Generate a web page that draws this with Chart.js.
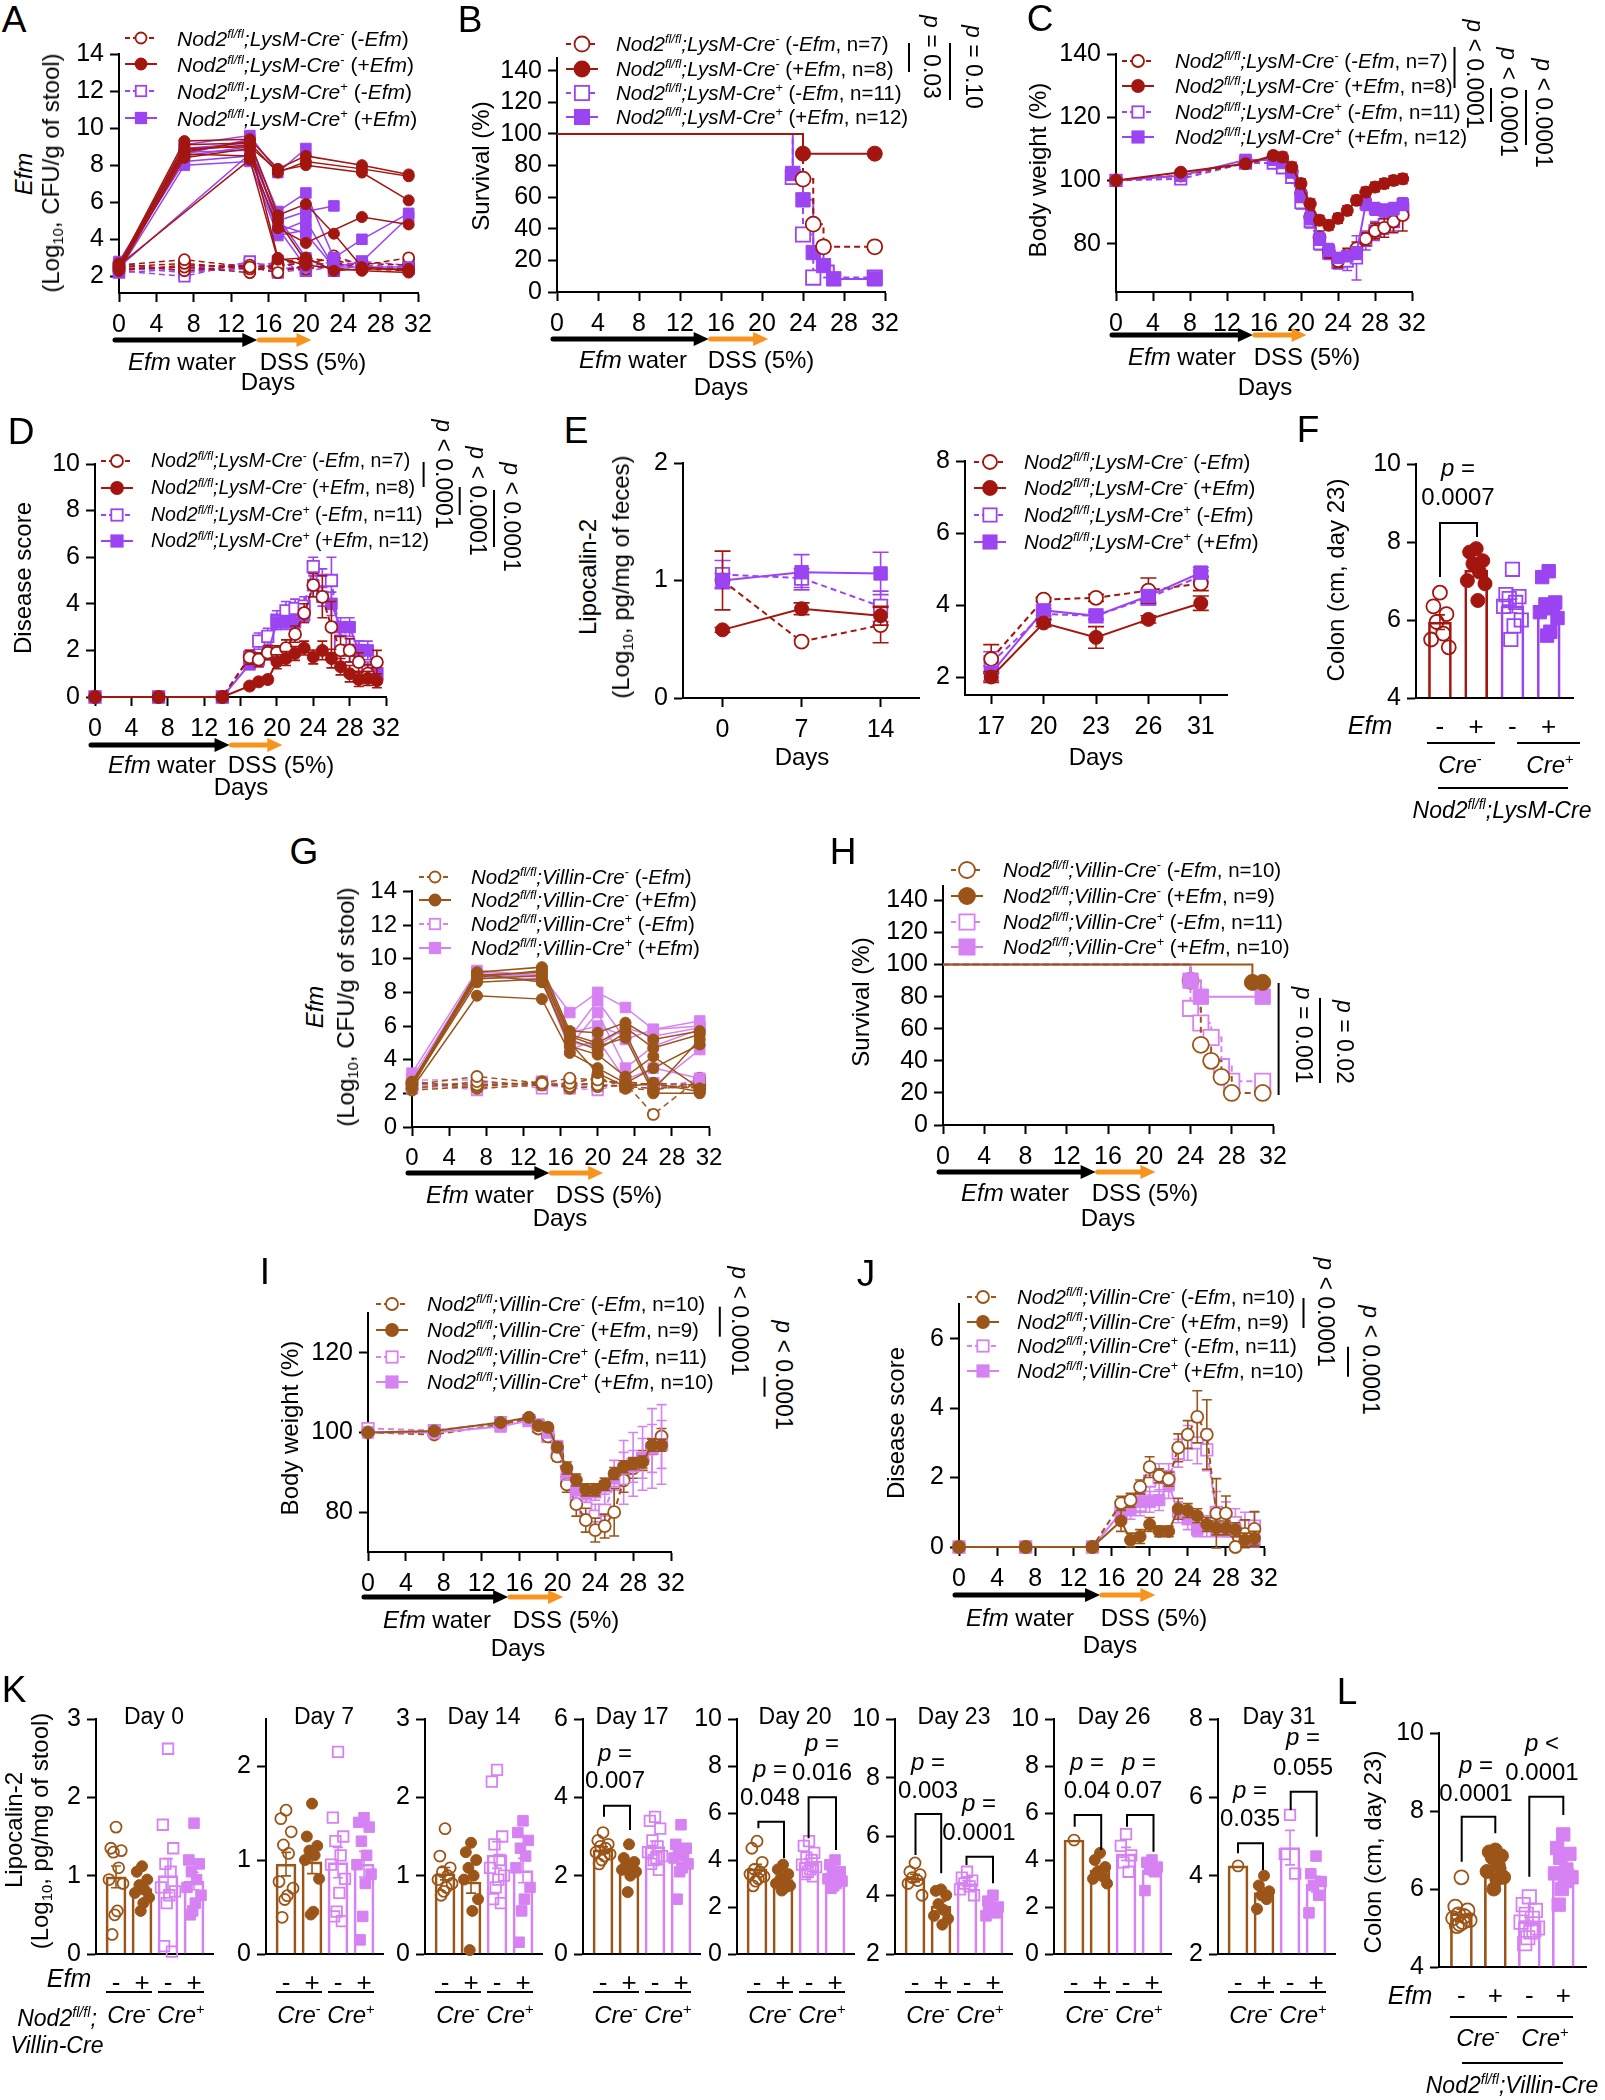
<!DOCTYPE html>
<html><head><meta charset="utf-8">
<script src="https://cdn.jsdelivr.net/npm/chart.js@4.4.1/dist/chart.umd.min.js"></script>
<style>
html,body{margin:0;padding:0;background:#fff;}
body{width:1605px;height:2100px;position:relative;overflow:hidden;font-family:"Liberation Sans",Arial,Helvetica,sans-serif;color:#000;}
canvas{position:absolute;}
.t{position:absolute;white-space:nowrap;line-height:1;}
.t sup{font-size:0.62em;vertical-align:0.6em;line-height:0;}
.t sub{font-size:0.62em;vertical-align:-0.3em;line-height:0;}
#ov{position:absolute;left:0;top:0;pointer-events:none;}
</style></head><body>
<script>
/* ================= DATA ================= */
const efmDays=[0,7,14,17,20,23,26,31];
const scoreDays=[0,7,14,17,18,19,20,21,22,23,24,25,26,27,28,29,30,31];
const dayTicks=[0,4,8,12,16,20,24,28,32];
const phaseDays=[0,14.8,20.6]; // Efm water -> DSS (5%)

// A: Efm CFU per mouse (LysM)
const A_creNeg_noEfm=[[2.6,2.9,2.5,2.2,2.6,3.1,2.6,3.0],[2.5,2.7,2.4,2.5,2.8,2.9,2.5,2.4],[2.4,2.5,2.2,2.7,3.0,2.8,2.4,2.3],[2.7,2.3,2.6,2.4,2.4,2.6,2.7,2.6],[2.3,2.6,2.5,2.6,2.9,2.5,null,null]];
const A_creNeg_Efm=[[2.6,9.3,9.4,7.8,8.5,null,8.0,7.5],[2.5,9.1,9.2,7.6,8.2,null,7.8,7.4],[2.4,8.9,9.0,7.7,8.0,null,7.6,6.1],[2.7,8.7,9.3,5.3,5.9,4.3,2.5,2.3],[2.3,8.6,8.5,4.6,3.8,null,5.2,4.8],[2.5,8.8,9.1,3.0,2.6,null,2.3,2.2],[2.6,null,8.3,2.9,3.0,2.3,2.4,2.4],[2.4,8.4,8.9,5.0,2.8,null,null,null]];
const A_crePos_noEfm=[[2.3,2.0,2.8,2.4,2.5,2.8,2.8,2.6],[2.5,2.2,2.5,2.2,2.4,2.6,2.5,2.4],[2.2,2.4,2.7,2.6,2.7,2.3,2.6,2.5],[2.6,2.3,2.4,2.8,2.3,2.5,null,null],[2.4,2.5,2.6,2.3,2.6,null,null,null]];
const A_crePos_Efm=[[2.5,9.1,9.6,7.6,8.9,null,null,null],[2.7,8.9,9.2,5.5,6.5,3.0,4.0,5.4],[2.4,8.7,8.8,5.0,5.5,5.8,null,null],[2.6,8.2,8.5,4.4,5.0,2.5,2.8,5.2],[2.3,8.0,8.2,4.2,4.5,null,null,null],[2.8,8.5,9.0,4.8,4.3,2.5,2.5,2.5],[2.5,null,8.6,5.2,3.0,2.3,null,null],[2.6,8.6,9.4,4.6,2.5,null,null,null]];

// B: survival (LysM)
const B_t_negNo=[0,24,25,26,31], B_s_negNo=[100,71.4,42.9,28.6,28.6];
const B_t_negEfm=[0,24,31], B_s_negEfm=[100,87.5,87.5];
const B_t_posNo=[0,23,24,25,31], B_s_posNo=[100,72.7,36.4,9.1,9.1];
const B_t_posEfm=[0,23,24,25,26,27,31], B_s_posEfm=[100,75,58.3,25,16.7,8.3,8.3];

// C: body weight (LysM)
const C_negNo=[100,101.5,105.5,107,106,103,96,88.5,82,77.5,74.5,76.5,78.5,81.5,84,85,87,89];
const C_negNo_e=[0,0.5,1,1,1.5,1.5,2,2,2,2,2,2,2,2,2.5,3,3.5,5];
const C_negEfm=[100,102.6,105.3,107.9,107.4,104.2,99,92.6,87.4,85.8,88,90.5,93.7,96.3,97.9,99,100,100.5];
const C_negEfm_e=[0,0.5,1,1.2,1.5,1.5,1.5,1.5,1.5,1.5,1.5,1.5,1.5,1.5,1.5,1.5,1.5,1.5];
const C_posNo=[100,100.5,105.5,105.5,104,101,93,87,80,77,74,74.5,75.5,81,84,86,87,91];
const C_posNo_e=[0,0.5,1,1,1,1.5,2,2,2,2,2,3,7,3,3,3,3,2];
const C_posEfm=[100,101.5,106.5,106.5,105.5,102.5,95,88,81.5,78,75.5,76,77,92.5,91,90.5,91,92.5];
const C_posEfm_e=[0,0.5,1,1,1,1.5,2,2,2,2,1.5,1.5,2,2,2,2,2,2];

// D: disease score (LysM)
const D_negNo=[0,0,0,1.7,1.6,1.9,1.9,2.1,2.7,3.6,4.8,4.3,3.0,2.0,2.0,1.5,1.0,1.5];
const D_negNo_e=[0,0,0,0.3,0.3,0.3,0.3,0.35,0.35,0.4,0.5,0.9,1.1,0.6,0.5,0.4,0.4,0.5];
const D_negEfm=[0,0,0,0.47,0.65,0.75,1.51,1.65,1.87,2.1,1.72,2.0,1.65,1.3,1.0,0.75,0.8,0.7];
const D_negEfm_e=[0,0,0,0.1,0.1,0.15,0.3,0.3,0.3,0.3,0.3,0.4,0.4,0.35,0.35,0.3,0.3,0.3];
const D_posNo=[0,0,0,1.7,2.4,2.6,3.3,3.7,3.8,3.9,5.6,5.0,5.0,2.4,2.0,2.0,1.1,1.0];
const D_posNo_e=[0,0,0,0.3,0.35,0.35,0.4,0.4,0.4,0.4,0.4,0.5,1.0,0.6,0.5,0.4,0.4,0.4];
const D_posEfm=[0,0,0,1.4,1.6,1.9,3.2,3.2,3.2,3.5,4.8,4.3,4.0,3.0,3.0,2.0,2.0,1.0];
const D_posEfm_e=[0,0,0,0.2,0.3,0.3,0.3,0.3,0.3,0.3,0.5,0.4,0.5,0.4,0.4,0.4,0.4,0.3];

// E: lipocalin-2 (LysM)
const E1_days=[0,7,14];
const E1_negNo=[1.0,0.48,0.62], E1_negNo_e=[0.25,0,0.15];
const E1_negEfm=[0.58,0.76,0.70], E1_negEfm_e=[0.02,0.05,0.08];
const E1_posNo=[1.05,1.02,0.78], E1_posNo_e=[0.12,0.08,0.13];
const E1_posEfm=[1.0,1.07,1.06], E1_posEfm_e=[0.06,0.15,0.18];
const E2_days=['17','20','23','26','31'];
const E2_negNo=[2.5,4.15,4.2,4.4,4.6], E2_negNo_e=[0.4,0.05,0.1,0.35,0.2];
const E2_negEfm=[2.0,3.5,3.1,3.6,4.05], E2_negEfm_e=[0.15,0.1,0.3,0.1,0.2];
const E2_posNo=[2.4,3.75,3.7,4.2,4.8], E2_posNo_e=[0.3,0.15,0.1,0.2,0.15];
const E2_posEfm=[2.1,3.85,3.7,4.25,4.9], E2_posEfm_e=[0.2,0.15,0.1,0.15,0.15];

// F: colon length day 23 (LysM)
const F_creNeg_noEfm=[6.7,6.35,6.15,5.95,5.65,5.5,5.3];
const F_creNeg_Efm=[7.83,7.74,7.52,7.44,7.23,7.01,6.93,6.5];
const F_crePos_noEfm=[7.3,6.65,6.6,6.55,6.45,6.35,6.0,5.85,5.5];
const F_crePos_Efm=[7.25,7.1,6.45,6.4,6.3,6.2,6.05,5.7,5.6];

// G: Efm CFU per mouse (Villin)
const G_creNeg_noEfm=[[2.5,3.0,2.6,2.9,2.8,2.6,0.75,2.9],[2.3,2.7,2.5,2.6,2.5,2.4,2.3,2.4],[2.6,2.5,2.6,2.4,2.7,2.7,2.5,2.3],[2.2,2.4,2.7,2.3,2.4,2.5,2.6,2.5],[2.7,2.3,2.5,2.5,3.0,2.3,2.2,2.6]];
const G_creNeg_Efm=[[2.6,9.2,9.5,5.7,5.6,6.2,5.2,5.7],[2.4,9.0,9.2,5.5,5.0,5.9,4.7,5.5],[2.7,8.8,9.0,5.2,4.6,5.6,2.2,5.2],[2.5,8.6,8.8,4.8,4.3,3.0,4.2,2.3],[2.3,7.8,7.6,4.4,3.5,2.6,3.5,4.9],[2.6,9.1,8.6,5.0,3.2,2.4,2.6,2.1],[2.5,8.9,9.3,5.4,4.8,5.3,2.0,2.0]];
const G_crePos_noEfm=[[2.4,2.6,2.5,2.3,2.2,2.6,2.5,2.6],[2.6,2.2,2.7,2.5,2.5,2.4,2.3,2.8],[2.8,2.8,2.3,2.7,2.8,2.5,2.6,2.4],[2.3,2.5,2.6,2.4,2.4,2.7,2.4,2.5]];
const G_crePos_Efm=[[3.2,9.3,9.0,6.8,8.0,7.1,5.8,6.3],[2.9,9.1,8.9,5.3,7.5,5.2,5.8,6.0],[2.7,9.0,8.7,4.8,6.8,3.5,4.8,5.8],[2.5,8.8,9.1,5.6,6.0,5.4,2.4,4.6],[2.6,8.9,8.8,4.6,5.2,2.8,3.5,2.9],[2.4,9.2,9.0,5.0,4.8,5.9,5.4,5.9]];

// H: survival (Villin)
const H_t_negNo=[0,24,25,26,27,28,31], H_s_negNo=[100,90,50,40,30,20,20];
const H_t_negEfm=[0,30,31], H_s_negEfm=[100,88.9,88.9];
const H_t_posNo=[0,24,25,26,27,28,31], H_s_posNo=[100,72.7,63.6,54.5,36.4,27.3,27.3];
const H_t_posEfm=[0,24,25,31], H_s_posEfm=[100,90,80,80];

// I: body weight (Villin)
const I_negNo=[100,99.5,102,103.5,101,99,94,87,82,78,75.5,76.5,80,88,91,93,96.5,99];
const I_negNo_e=[0.5,0.5,0.6,0.6,0.8,1,1.2,2,3,3,3,3,6,3,2.5,2.5,2,2];
const I_negEfm=[100,100.4,102.5,103.8,101.7,101.3,96.3,91.1,88.1,85.6,85.6,87,89.7,91.4,92.2,92.6,96.8,96.8];
const I_negEfm_e=[0.3,0.4,0.5,0.5,0.8,1,1.2,1.5,1.5,1.5,1.5,1.5,1.5,1.5,1.5,1.5,1.5,1.5];
const I_posNo=[101,100.5,102.5,103,101.5,99,95,88,84,81,79,80.5,87,90,92,93.5,96,97];
const I_posNo_e=[1,1,1,1,1,1,1.5,2,2.5,3,3,4,6,8,8,8,10,10];
const I_posEfm=[100,100,101.5,103,102,100,96.5,90,85.5,84.5,85,86.5,88.5,91,91.5,93.5,96,97];
const I_posEfm_e=[0.5,0.6,0.8,0.8,1,1,1.5,2,2,2,2,2,2,4,4,5,6,6];

// J: disease score (Villin)
const J_negNo=[0,0,0,1.26,1.35,1.73,2.3,2.05,1.95,2.86,3.24,3.75,3.24,0.97,0.97,0,0.38,0.52];
const J_negNo_e=[0,0,0,0.2,0.2,0.2,0.3,0.2,0.2,0.4,0.4,0.75,1.0,1.0,0.5,0,0.4,0.5];
const J_negEfm=[0,0,0,0.75,0.2,0.3,0.65,0.45,0.45,1.1,1.05,0.9,0.65,0.55,0.55,0.5,0.2,0.25];
const J_negEfm_e=[0,0,0,0.3,0.2,0.2,0.2,0.15,0.15,0.3,0.2,0.2,0.2,0.2,0.2,0.2,0.2,0.2];
const J_posNo=[0,0,0,1.0,1.2,1.2,1.9,2.0,2.0,2.7,3.0,3.0,2.8,1.0,0.8,0.7,0.6,0.6];
const J_posNo_e=[0,0,0,0.3,0.3,0.3,0.4,0.4,0.4,0.4,0.5,0.6,0.6,0.6,0.5,0.4,0.4,0.4];
const J_posEfm=[0,0,0,1.0,1.1,1.3,1.3,1.35,1.8,1.0,0.8,0.5,0.6,0.5,0.5,0.5,0.3,0.2];
const J_posEfm_e=[0,0,0,0.3,0.3,0.3,0.3,0.3,0.4,0.3,0.3,0.2,0.3,0.2,0.2,0.2,0.2,0.2];

// K: lipocalin-2 per day (Villin)
const K_titles=['Day 0','Day 7','Day 14','Day 17','Day 20','Day 23','Day 26','Day 31'];
const K_creNeg_noEfm=[[1.62,1.35,1.32,1.3,1.1,0.95,0.9,0.55,0.5,0.25],[1.53,1.44,1.3,1.16,1.07,0.77,0.7,0.62,0.58,0.39],[1.6,1.25,1.1,1.05,1.0,0.95,0.9,0.85,0.8,0.75],[3.1,2.9,2.8,2.75,2.7,2.6,2.55,2.5,2.4,2.3],[4.8,4.5,3.9,3.6,3.5,3.4,3.3,3.2,3.1,2.9],[5.1,4.8,4.7,4.6,4.5,4.4,4.0],[4.85],[4.25]];
const K_creNeg_Efm=[[1.12,1.05,0.95,0.88,0.82,0.78,0.72,0.65,0.55],[1.6,1.25,1.15,1.1,1.05,1.0,0.8,0.45,0.42],[1.42,1.3,1.2,1.1,1.0,0.95,0.7,0.55,0.05],[2.8,2.45,2.35,2.3,2.2,2.15,2.1,2.0,1.58],[3.8,3.6,3.4,3.2,3.1,3.0,2.9,2.8,2.7],[4.2,4.15,4.0,3.7,3.5,3.3,3.2,3.0],[4.3,4.0,3.7,3.5,3.3,3.2,3.0],[4.0,3.75,3.6,3.5,3.4,3.15]];
const K_crePos_noEfm=[[2.62,1.65,1.35,1.15,1.05,0.85,0.8,0.75,0.65,0.1,0.03],[2.15,1.45,1.25,1.2,1.05,0.95,0.8,0.65,0.45,0.4,0.35],[2.35,2.2,1.5,1.4,1.2,1.1,1.0,0.95,0.85,0.7,0.65],[3.5,3.4,3.2,2.9,2.75,2.6,2.5,2.45,2.4,2.3,2.15],[4.8,4.6,4.3,4.1,4.0,3.8,3.7,3.6,3.5,3.4,3.3],[4.8,4.6,4.5,4.4,4.3,4.2,4.0],[5.1,4.6,4.2,3.9,3.5],[5.55,4.55,4.05]];
const K_crePos_Efm=[[1.67,1.2,1.15,1.05,0.95,0.85,0.75,0.65,0.55,0.5],[1.45,1.4,1.35,1.2,1.05,0.95,0.85,0.75,0.4,0.15],[1.7,1.55,1.45,1.35,1.25,1.1,0.85,0.7,0.55,0.15],[3.3,2.8,2.7,2.6,2.55,2.45,2.3,2.2,2.1,1.4],[4.0,3.8,3.5,3.4,3.3,3.2,3.1,3.0,2.9,2.8],[4.0,3.8,3.6,3.5,3.4,3.3],[4.0,3.9,3.7,3.6,3.5,2.7],[4.5,4.05,3.85,3.75,3.5,3.05]];
const K_ymin=[0,0,0,0,0,2,0,2], K_ymax=[3,2.5,3,6,10,10,10,8];
const K_yticks=[[0,1,2,3],[0,1,2],[0,1,2,3],[0,2,4,6],[0,2,4,6,8,10],[2,4,6,8,10],[0,2,4,6,8,10],[2,4,6,8]];

// L: colon length day 23 (Villin)
const L_creNeg_noEfm=[6.3,5.55,5.45,5.35,5.3,5.25,5.2,5.15,5.1,5.05];
const L_creNeg_Efm=[7.0,6.95,6.85,6.8,6.6,6.45,6.3,6.25,6.0];
const L_crePos_noEfm=[5.8,5.6,5.45,5.35,5.25,5.15,5.0,4.9,4.75,4.6,4.95];
const L_crePos_Efm=[7.4,7.05,6.9,6.8,6.5,6.4,6.3,6.2,6.0,5.6];

const efmTick=['-','+','-','+'];
const lysN=[7,8,11,12], vilN=[10,9,11,10];

/* ================= HELPERS ================= */
const FF='"Liberation Sans", Arial, Helvetica, sans-serif';
Chart.defaults.font.family=FF; Chart.defaults.color='#000';
const RED='#a3160f', PUR='#9b44f1', BRN='#9b5519', PNK='#d682f3', ORG='#f7941d';
const L=72,T=20,R=24,XB=40;
const mean=a=>a.reduce((s,v)=>s+v,0)/a.length;
const sem=a=>{if(a.length<2)return 0;const m=mean(a);return Math.sqrt(a.reduce((s,v)=>s+(v-m)*(v-m),0)/(a.length-1))/Math.sqrt(a.length);};
const jit=[0,-0.2,0.2,-0.1,0.1,-0.27,0.27,0.05,-0.05,-0.15,0.15];

const S={
  lNn:{c:RED,f:false,s:'circle',d:true}, lNe:{c:RED,f:true,s:'circle',d:false},
  lPn:{c:PUR,f:false,s:'rect',d:true},  lPe:{c:PUR,f:true,s:'rect',d:false},
  vNn:{c:BRN,f:false,s:'circle',d:true}, vNe:{c:BRN,f:true,s:'circle',d:false},
  vPn:{c:PNK,f:false,s:'rect',d:true},  vPe:{c:PNK,f:true,s:'rect',d:false}};
const LS=[S.lNn,S.lNe,S.lPn,S.lPe], VS=[S.vNn,S.vNe,S.vPn,S.vPe];
const sz=(st,r,lw)=>Object.assign({},st,{r,lw});

function drawErr(ch,i){
  const ds=ch.data.datasets[i], meta=ch.getDatasetMeta(i), ys=ch.scales.y, ctx=ch.ctx;
  ctx.save(); ctx.lineWidth=ds.errW||1.6; ctx.setLineDash([]);
  meta.data.forEach((el,j)=>{
    const e=ds.err[j], d=ds.data[j], v=(d&&typeof d==='object')?d.y:d;
    if(!e||v==null) return;
    const x=el.x, a=ys.getPixelForValue(v+e), b=ys.getPixelForValue(v-e), cp=ds.errCap||5;
    ctx.strokeStyle=Array.isArray(ds.errColor)?ds.errColor[j]:(ds.errColor||ds.borderColor);
    ctx.beginPath(); ctx.moveTo(x,a); ctx.lineTo(x,b);
    ctx.moveTo(x-cp,a); ctx.lineTo(x+cp,a); ctx.moveTo(x-cp,b); ctx.lineTo(x+cp,b); ctx.stroke();
  });
  ctx.restore();
}
const errPlugin={id:'errbars',
  beforeDatasetDraw(ch,a){const ds=ch.data.datasets[a.index]; if(ds.err&&!ds.errAfter) drawErr(ch,a.index);},
  afterDatasetDraw(ch,a){const ds=ch.data.datasets[a.index]; if(ds.err&&ds.errAfter) drawErr(ch,a.index);}};
function arrowShape(ctx,xa,xb,y,col){
  ctx.save(); ctx.strokeStyle=col; ctx.fillStyle=col; ctx.lineWidth=5; ctx.lineCap='round';
  ctx.beginPath(); ctx.moveTo(xa,y); ctx.lineTo(xb-12,y); ctx.stroke();
  ctx.beginPath(); ctx.moveTo(xb,y); ctx.lineTo(xb-15,y-7); ctx.lineTo(xb-15,y+7); ctx.closePath(); ctx.fill(); ctx.restore();
}
const arrowPlugin={id:'dssArrow', afterDraw(ch,a,o){ if(!o||!o.dy) return;
  const xs=ch.scales.x, y=ch.chartArea.bottom+o.dy;
  arrowShape(ch.ctx, xs.getPixelForValue(phaseDays[0])-4, xs.getPixelForValue(phaseDays[1]), y, '#000');
  arrowShape(ch.ctx, xs.getPixelForValue(phaseDays[1])+2, xs.getPixelForValue(phaseDays[2]), y, ORG);
}};
Chart.register(errPlugin,arrowPlugin);

function place(x0,y0,x1,y1,pb){
  const c=document.createElement('canvas');
  c.width=x1-x0+L+R; c.height=y1-y0+T+XB+pb;
  c.style.left=(x0-L)+'px'; c.style.top=(y0-T)+'px';
  document.body.appendChild(c); return c;
}
function sc(r,isX,o){
  o=o||{};
  const s={type:o.type||'linear', offset:!!o.offset,
    afterFit: isX?(a=>{a.height=XB;}):(a=>{a.width=L;}),
    grid:{display:true,drawOnChartArea:false,drawTicks:!o.noTicks,tickLength:9,tickWidth:2,tickColor:'#000',color:'#000',offset:false},
    border:{display:true,color:'#000',width:2},
    ticks:{color:'#000',font:{family:FF,size:o.fs||25},padding:(o.pad!=null?o.pad:5),maxRotation:0,minRotation:0,autoSkip:false}};
  if(s.type==='linear'){ s.min=r[0]; s.max=r[1]; const tk=r[2]; s.afterBuildTicks=a=>{a.ticks=tk.map(v=>({value:v}));}; }
  if(o.cb) s.ticks.callback=o.cb;
  return s;
}
function chart(box,xr,yr,type,datasets,o){
  o=o||{};
  const b=box.map(Math.round), pb=(o.pb!=null?o.pb:34);
  const c=place(b[0],b[1],b[2],b[3],pb);
  return new Chart(c,{type,data:{labels:o.labels,datasets},
    options:{responsive:false,animation:false,events:[],
      layout:{padding:{top:T,right:R,bottom:pb,left:0}},
      scales:{x:sc(xr,true,Object.assign({pad:8},o.xo||{})), y:sc(yr,false,Object.assign({pad:6},o.yo||{}))},
      plugins:{legend:{display:false},tooltip:{enabled:false},dssArrow:{dy:o.arrow||0}}}});
}
function lds(xs,ys,st,o){
  o=o||{};
  const rr=st.s==='rect'?st.r*1.35:st.r;
  return {data:xs.map((x,i)=>({x,y:ys[i]})), borderColor:st.c, backgroundColor:st.c,
    pointStyle:st.s, pointRadius:o.hide0?xs.map((v,i)=>i?rr:0):rr,
    pointBackgroundColor:st.f?st.c:'#fff', pointBorderColor:st.c, pointBorderWidth:st.f?1:1.8,
    borderWidth:st.lw||2, borderDash:st.d?[6,4]:[], fill:false, clip:false, spanGaps:true, tension:0,
    stepped:!!o.stepped, order:o.order||0, err:o.err, errCap:o.cap||5};
}
function barPanel(box,yr,groups,sts,o){
  const m=groups.map(mean), e=groups.map(sem);
  const ds=[{type:'bar',data:m.map((v,i)=>({x:i+1,y:v})),base:yr[0],barThickness:o.bw,backgroundColor:'rgba(0,0,0,0)',
    borderColor:sts.map(s=>s.c),borderWidth:2,borderSkipped:'start',order:10,err:e,errAfter:true,errColor:sts.map(s=>s.c),errCap:5}];
  groups.forEach((g,gi)=>{const st=sts[gi], rr=st.s==='rect'?o.r*1.35:o.r;
    ds.push({type:'scatter',data:g.map((v,j)=>({x:gi+1+jit[j%jit.length]*o.js,y:v})),pointStyle:st.s,pointRadius:rr,
      pointBackgroundColor:st.f?st.c:'rgba(0,0,0,0)',pointBorderColor:st.c,pointBorderWidth:st.f?1:1.8,showLine:false,clip:false,order:1});});
  return chart(box,[o.xmin,o.xmax,[1,2,3,4]],yr,'bar',ds,{pb:10,xo:{noTicks:true,pad:14,fs:26,cb:(v,i)=>efmTick[i]},yo:{fs:25}});
}

/* ---- text & overlay ---- */
function tx(h,x,y,fs,o){
  o=o||{};
  const d=document.createElement('div'); d.className='t'; d.innerHTML=h;
  d.style.fontSize=fs+'px'; d.style.left=x+'px'; d.style.top=y+'px';
  let t=o.a==='l'?'translate(0,-50%)':(o.a==='r'?'translate(-100%,-50%)':'translate(-50%,-50%)');
  if(o.rot) t+=' rotate('+o.rot+'deg)';
  d.style.transform=t; document.body.appendChild(d); return d;
}
const NS='http://www.w3.org/2000/svg';
const OV=document.createElementNS(NS,'svg'); OV.setAttribute('id','ov'); OV.setAttribute('width','1605'); OV.setAttribute('height','2100');
function el(n,at){const e=document.createElementNS(NS,n); for(const k in at) e.setAttribute(k,at[k]); OV.appendChild(e); return e;}
function sl(x1,y1,x2,y2,c,w,dash){const at={x1,y1,x2,y2,stroke:c||'#000','stroke-width':w||2}; if(dash) at['stroke-dasharray']=dash; el('line',at);}
function sp(d,c,w){el('path',{d,fill:'none',stroke:c||'#000','stroke-width':w||2});}
function smark(s,x,y,r,c,f){ if(s==='circle') el('circle',{cx:x,cy:y,r:r,fill:f?c:'#fff',stroke:c,'stroke-width':1.8});
  else {const a=r*1.9; el('rect',{x:x-a/2,y:y-a/2,width:a,height:a,fill:f?c:'#fff',stroke:c,'stroke-width':1.8});}}
function gl(line,sign,efm,n){return '<i>Nod2<sup>fl/fl</sup>;'+line+'-Cre</i><sup>'+sign+'</sup> ('+efm+'<i>Efm</i>'+(n!=null?', n='+n:'')+')';}
function labels(line,ns){return [gl(line,'-','-',ns?ns[0]:null),gl(line,'-','+',ns?ns[1]:null),gl(line,'+','-',ns?ns[2]:null),gl(line,'+','+',ns?ns[3]:null)];}
function legend(mx,tx0,ys,labs,sts,r,fs){labs.forEach((lb,i)=>{const st=sts[i],y=ys[i];
  sl(mx-16,y,mx+16,y,st.c,2,st.d?'5,3':null); smark(st.s,mx,y,r,st.c,st.f); tx(lb,tx0,y,fs||20.5,{a:'l'});});}
function under(eX,wX,dX,y1,y2){ tx('<i>Efm</i> water',eX,y1,24); tx('DSS (5%)',wX,y1,24); tx('Days',dX,y2,24);}
const ytitle=(h,x,y)=>tx(h,x,y,24,{rot:-90});
const pv=(h,x,y)=>tx(h,x,y,23,{rot:90});

/* ================= PANELS ================= */
// ---- A ----
(function(){const ds=[];
  const add=(arr,st,ord)=>arr.forEach(m=>ds.push(lds(efmDays,m,sz(st,5.5,1.5),{order:ord})));
  add(A_creNeg_Efm,S.lNe,0); add(A_crePos_Efm,S.lPe,1); add(A_creNeg_noEfm,S.lNn,2); add(A_crePos_noEfm,S.lPn,3);
  chart([119,53,418,293],[0,32,dayTicks],[1.1,14,[2,4,6,8,10,12,14]],'line',ds,{arrow:47});
})();
legend(141,177,[38,64,91,118],labels('LysM'),LS,5.5,21);
ytitle('<i>Efm</i>',24,174); ytitle('(Log<sub>10</sub>, CFU/g of stool)',51,173);
under(182,313,268,362,382);

// ---- B ----
chart([557,57,885,292],[0,32,dayTicks],[0,148,[0,20,40,60,80,100,120,140]],'line',[
  lds(B_t_negEfm,B_s_negEfm,sz(S.lNe,7.5,2),{hide0:true,stepped:true,order:0}),
  lds(B_t_negNo,B_s_negNo,sz(S.lNn,7.5,2),{hide0:true,stepped:true,order:1}),
  lds(B_t_posEfm,B_s_posEfm,sz(S.lPe,7.5,2),{hide0:true,stepped:true,order:2}),
  lds(B_t_posNo,B_s_posNo,sz(S.lPn,7.5,2),{hide0:true,stepped:true,order:3})],{arrow:47});
legend(582,616,[44,69,93,117],labels('LysM',lysN),LS,7.5);
ytitle('Survival (%)',481,166);
under(633,761,721,360,387);
sl(909,43,909,72); sl(950,43,950,100); pv('<i>p</i> = 0.03',931,57); pv('<i>p</i> = 0.10',973,67);

// ---- C ----
chart([1116,53,1412,292],[0,32,dayTicks],[64.7,140,[80,100,120,140]],'line',[
  lds(scoreDays,C_negEfm,sz(S.lNe,6,2),{order:0,err:C_negEfm_e}),
  lds(scoreDays,C_posEfm,sz(S.lPe,6,2),{order:1,err:C_posEfm_e}),
  lds(scoreDays,C_negNo,sz(S.lNn,6,2),{order:2,err:C_negNo_e}),
  lds(scoreDays,C_posNo,sz(S.lPn,6,2),{order:3,err:C_posNo_e})],{arrow:43});
legend(1138,1175,[61,86,112,137],labels('LysM',lysN),LS,6);
ytitle('Body weight (%)',1038,170);
under(1182,1307,1265,357,387);
sl(1454.5,47,1454.5,88); sl(1491,88,1491,122); sl(1526,90,1526,145);
pv('<i>p</i> &lt; 0.0001',1474,74); pv('<i>p</i> &lt; 0.0001',1508,102); pv('<i>p</i> &lt; 0.0001',1543,113);

// ---- D ----
chart([95,463,386,697],[0,32,dayTicks],[0,10,[0,2,4,6,8,10]],'line',[
  lds(scoreDays,D_negEfm,sz(S.lNe,6,2),{order:0,err:D_negEfm_e}),
  lds(scoreDays,D_negNo,sz(S.lNn,6,2),{order:1,err:D_negNo_e}),
  lds(scoreDays,D_posEfm,sz(S.lPe,6,2),{order:2,err:D_posEfm_e}),
  lds(scoreDays,D_posNo,sz(S.lPn,6,2),{order:3,err:D_posNo_e})],{arrow:48});
legend(117,151,[461,488,515,541],labels('LysM',lysN),LS,6,19.5);
ytitle('Disease score',23,578);
under(162,281,241,765,787);
sl(423.6,462,423.6,487); sl(459.7,487,459.7,515); sl(494,490,494,547);
pv('<i>p</i> &lt; 0.0001',442.5,474); pv('<i>p</i> &lt; 0.0001',477,501); pv('<i>p</i> &lt; 0.0001',511,517);

// ---- E ----
chart([683,462,919,698],[-3.5,17.4,[0,7,14]],[0,2,[0,1,2]],'line',[
  lds(E1_days,E1_negEfm,sz(S.lNe,7,2),{order:0,err:E1_negEfm_e,cap:8}),
  lds(E1_days,E1_posEfm,sz(S.lPe,7,2),{order:1,err:E1_posEfm_e,cap:8}),
  lds(E1_days,E1_negNo,sz(S.lNn,7,2),{order:2,err:E1_negNo_e,cap:8}),
  lds(E1_days,E1_posNo,sz(S.lPn,7,2),{order:3,err:E1_posNo_e,cap:8})]);
chart([965,460,1227,695],null,[1.5,8,[2,4,6,8]],'line',[
  lds(E2_days,E2_negEfm,sz(S.lNe,7,2),{order:0,err:E2_negEfm_e,cap:8}),
  lds(E2_days,E2_posEfm,sz(S.lPe,7,2),{order:1,err:E2_posEfm_e,cap:8}),
  lds(E2_days,E2_negNo,sz(S.lNn,7,2),{order:2,err:E2_negNo_e,cap:8}),
  lds(E2_days,E2_posNo,sz(S.lPn,7,2),{order:3,err:E2_posNo_e,cap:8})],{labels:E2_days,xo:{type:'category',offset:true}});
legend(990,1024,[462,488,515,542],labels('LysM'),LS,7);
ytitle('Lipocalin-2',588,577); ytitle('(Log<sub>10</sub>, pg/mg of feces)',621,577);
tx('Days',802,757,24); tx('Days',1096,757,24);

// ---- F ----
barPanel([1416,463,1573,698],[4,10,[4,6,8,10]],[F_creNeg_noEfm,F_creNeg_Efm,F_crePos_noEfm,F_crePos_Efm],LS,{xmin:0.34,xmax:4.67,bw:23,r:7,js:0.9});
ytitle('Colon (cm, day 23)',1336,580);
tx('<i>Efm</i>',1370,725,25);
sl(1427,743,1495,743); sl(1517,743,1580,743);
tx('<i>Cre</i><sup>-</sup>',1460,765,24); tx('<i>Cre</i><sup>+</sup>',1550,765,24);
sl(1438,788,1568,788); tx('<i>Nod2<sup>fl/fl</sup>;LysM-Cre</i>',1502,810,23);
tx('<i>p</i> =',1458,468,24); tx('0.0007',1458,497,24); sp('M1440,577 V523 H1477 V537');

// ---- G ----
(function(){const ds=[];
  const add=(arr,st,ord)=>arr.forEach(m=>ds.push(lds(efmDays,m,sz(st,5.5,1.5),{order:ord})));
  add(G_creNeg_Efm,S.vNe,0); add(G_crePos_Efm,S.vPe,1); add(G_creNeg_noEfm,S.vNn,2); add(G_crePos_noEfm,S.vPn,3);
  chart([412,891,709,1127],[0,32,dayTicks],[0,14,[0,2,4,6,8,10,12,14]],'line',ds,{arrow:46,xo:{fs:24},yo:{fs:24}});
})();
legend(435,471,[877,900,924,948],labels('Villin'),VS,5.5);
ytitle('<i>Efm</i>',315,1007); ytitle('(Log<sub>10</sub>, CFU/g of stool)',346,1007);
under(480,609,560,1195,1218);

// ---- H ----
chart([943,885,1273,1125],[0,32,dayTicks],[0,149,[0,20,40,60,80,100,120,140]],'line',[
  lds(H_t_negEfm,H_s_negEfm,sz(S.vNe,8,2),{hide0:true,stepped:true,order:0}),
  lds(H_t_posEfm,H_s_posEfm,sz(S.vPe,8,2),{hide0:true,stepped:true,order:1}),
  lds(H_t_negNo,H_s_negNo,sz(S.vNn,8,2),{hide0:true,stepped:true,order:2}),
  lds(H_t_posNo,H_s_posNo,sz(S.vPn,8,2),{hide0:true,stepped:true,order:3})],{arrow:47});
legend(967,1003,[870,896,922,947],labels('Villin',vilN),VS,8);
ytitle('Survival (%)',861,1002);
under(1015,1145,1108,1193,1218);
sl(1278.6,983,1278.6,1095); sl(1320,998,1320,1083);
pv('<i>p</i> = 0.001',1302.5,1035); pv('<i>p</i> = 0.02',1343.6,1042);

// ---- I ----
chart([368,1312,671,1552],[0,32,dayTicks],[70,130,[80,100,120]],'line',[
  lds(scoreDays,I_negEfm,sz(S.vNe,6,2),{order:0,err:I_negEfm_e}),
  lds(scoreDays,I_posEfm,sz(S.vPe,6,2),{order:1,err:I_posEfm_e}),
  lds(scoreDays,I_negNo,sz(S.vNn,6,2),{order:2,err:I_negNo_e}),
  lds(scoreDays,I_posNo,sz(S.vPn,6,2),{order:3,err:I_posNo_e})],{arrow:45});
legend(392,427,[1304,1330,1357,1382],labels('Villin',vilN),VS,6);
ytitle('Body weight (%)',290,1428);
under(437,566,518,1620,1648);
sl(719.8,1306.7,719.8,1336.7); sl(764.5,1376.7,764.5,1396.7);
pv('<i>p</i> &lt; 0.0001',739,1321); pv('<i>p</i> &lt; 0.0001',782.5,1375);

// ---- J ----
chart([959,1303,1264,1547],[0,32,dayTicks],[0,7,[0,2,4,6]],'line',[
  lds(scoreDays,J_negEfm,sz(S.vNe,6,2),{order:0,err:J_negEfm_e}),
  lds(scoreDays,J_negNo,sz(S.vNn,6,2),{order:1,err:J_negNo_e}),
  lds(scoreDays,J_posEfm,sz(S.vPe,6,2),{order:2,err:J_posEfm_e}),
  lds(scoreDays,J_posNo,sz(S.vPn,6,2),{order:3,err:J_posNo_e})],{arrow:48});
legend(983,1017,[1297,1322,1346,1371],labels('Villin',vilN),VS,6);
ytitle('Disease score',896,1423);
under(1020,1154,1110,1618,1645);
sl(1303.5,1298,1303.5,1328); sl(1348,1346.7,1348,1376.7);
pv('<i>p</i> &lt; 0.0001',1325,1311.5); pv('<i>p</i> &lt; 0.0001',1370,1360);

// ---- K ----
const K_x0=[96,266,425,583,737,895,1054,1218];
const K_tx=[154,324,484,632,795,954,1114,1279];
K_titles.forEach((t,k)=>{const x0=K_x0[k];
  barPanel([x0,1718,x0+117,1954],[K_ymin[k],K_ymax[k],K_yticks[k]],[K_creNeg_noEfm[k],K_creNeg_Efm[k],K_crePos_noEfm[k],K_crePos_Efm[k]],VS,{xmin:0.23,xmax:4.73,bw:20,r:5.5,js:1});
  tx(t,K_tx[k],1716,23);
  sl(x0+10,1992,x0+56,1992); sl(x0+62,1992,x0+108,1992);
  tx('<i>Cre</i><sup>-</sup>',x0+33,2015,24); tx('<i>Cre</i><sup>+</sup>',x0+85,2015,24);
});
ytitle('Lipocalin-2',14,1830); ytitle('(Log<sub>10</sub>, pg/mg of stool)',40,1831);
tx('<i>Efm</i>',69,1978,25); tx('<i>Nod2<sup>fl/fl</sup>;</i>',57,2018,23); tx('<i>Villin-Cre</i>',57,2045,23);
// K p-values
const kp=(a,b,x,y1,y2)=>{tx(a,x,y1,24); tx(b,x,y2,24);};
kp('<i>p</i> =','0.007',615,1753,1780); sp('M604,1816.7 V1805.7 H630 V1830');
kp('<i>p</i> =','0.048',770,1769,1797); sp('M758.4,1828.3 V1821.7 H784 V1858.3');
kp('<i>p</i> =','0.016',822,1743,1772); sp('M808.6,1838.3 V1797.3 H836 V1850');
kp('<i>p</i> =','0.003',928,1762,1790); sp('M915.5,1855 V1814 H941.2 V1873.3');
kp('<i>p</i> =','0.0001',979,1803,1832); sp('M966.5,1865 V1856.7 H993 V1883.3');
kp('<i>p</i> =','0.04',1087,1762,1790); sp('M1074.7,1826.7 V1815 H1101.2 V1850');
kp('<i>p</i> =','0.07',1139,1762,1790); sp('M1127,1826.7 V1815 H1153.5 V1851.7');
kp('<i>p</i> =','0.035',1250,1790,1818); sp('M1238,1853.3 V1843.3 H1263 V1870');
kp('<i>p</i> =','0.055',1303,1737,1767); sp('M1290.7,1810 V1791.7 H1316.7 V1836.7');

// ---- L ----
barPanel([1439,1732,1586,1967],[4,10,[4,6,8,10]],[L_creNeg_noEfm,L_creNeg_Efm,L_crePos_noEfm,L_crePos_Efm],VS,{xmin:0.34,xmax:4.67,bw:22,r:7,js:0.9});
ytitle('Colon (cm, day 23)',1373,1852);
tx('<i>Efm</i>',1410,1995,25);
sl(1450,2017,1507,2017); sl(1517,2017,1573,2017);
tx('<i>Cre</i><sup>-</sup>',1478,2038,24); tx('<i>Cre</i><sup>+</sup>',1545,2038,24);
sl(1462,2063,1563,2063); tx('<i>Nod2<sup>fl/fl</sup>;Villin-Cre</i>',1512,2085,23);
kp('<i>p</i> =','0.0001',1476,1765,1793); sp('M1461.7,1861.7 V1816.7 H1495.3 V1833.3');
kp('<i>p</i> &lt;','0.0001',1542,1743,1772); sp('M1529.3,1876.7 V1796.7 H1563.3 V1815');

// ---- panel letters ----
[['A',14,19],['B',470,19],['C',1040,18],['D',21,431],['E',576,430],['F',1308,429],['G',304,851],['H',843,851],['I',265,1271],['J',866,1273],['K',14,1689],['L',1347,1691]]
  .forEach(p=>tx(p[0],p[1],p[2],37));

document.body.appendChild(OV);
</script>
</body></html>
